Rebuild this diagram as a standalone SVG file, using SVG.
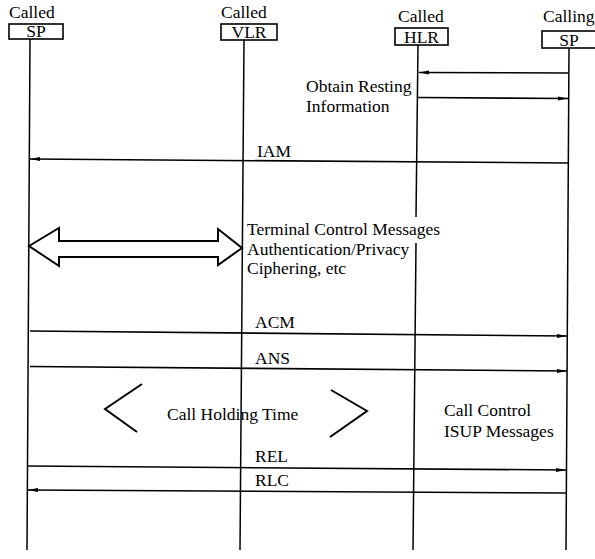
<svg xmlns="http://www.w3.org/2000/svg" width="595" height="559" viewBox="0 0 595 559">
<defs>
<marker id="ah" markerWidth="10" markerHeight="6" refX="10" refY="3" orient="auto" markerUnits="userSpaceOnUse">
<path d="M0,1 L10,3 L0,5 Z" fill="#000"/>
</marker>
<style>
text{font-family:"Liberation Serif","Times New Roman",serif;font-size:17.5px;fill:#000}
.box{fill:#fff;stroke:#000;stroke-width:1.6}
.life{stroke:#000;stroke-width:1.5;fill:none}
.msg{stroke:#000;stroke-width:1.6;fill:none;marker-end:url(#ah)}
.shape{stroke:#000;stroke-width:2;fill:none}
</style>
</defs>
<rect width="595" height="559" fill="#fff"/>
<g id="lifelines">
<line class="life" x1="30" y1="39" x2="27" y2="550"/>
<line class="life" x1="244" y1="40" x2="240" y2="550"/>
<line class="life" x1="418" y1="45" x2="416" y2="217"/>
<line class="life" x1="416" y1="243" x2="413" y2="550"/>
<line class="life" x1="569" y1="48" x2="566" y2="550"/>
</g>
<g id="node-called-sp">
<text x="9" y="18">Called</text>
<rect class="box" x="9" y="24" width="54" height="15"/>
<text x="36" y="37" text-anchor="middle">SP</text>
</g>
<g id="node-called-vlr">
<text x="221" y="18">Called</text>
<rect class="box" x="221" y="24" width="56" height="16"/>
<text x="249" y="38" text-anchor="middle">VLR</text>
</g>
<g id="node-called-hlr">
<text x="398" y="22">Called</text>
<rect class="box" x="395" y="28" width="53" height="17"/>
<text x="421.5" y="43" text-anchor="middle">HLR</text>
</g>
<g id="node-calling-sp">
<text x="543" y="22">Calling</text>
<rect class="box" x="542" y="31" width="60" height="17"/>
<text x="569" y="46" text-anchor="middle">SP</text>
</g>
<g id="connectors">
<line class="msg" x1="568" y1="73" x2="419" y2="72.5"/>
<line class="msg" x1="418" y1="97.5" x2="568" y2="98.5"/>
<line class="msg" x1="568" y1="163" x2="30" y2="159"/>
<line class="msg" x1="30" y1="331" x2="567" y2="336"/>
<line class="msg" x1="30" y1="366.5" x2="567" y2="371"/>
<line class="msg" x1="28" y1="466" x2="566" y2="470"/>
<line class="msg" x1="566" y1="493" x2="28" y2="490"/>
<polygon class="shape" points="29,246 59,228 59,241 218,241 218,229 242,248 218,265 218,257 59,257 59,266"/>
<polyline class="shape" points="142,384 105,409 137,432"/>
<polyline class="shape" points="331,390 367,411 330,437"/>
</g>
<g id="labels">
<text x="306" y="92">Obtain Resting</text>
<text x="306" y="112">Information</text>
<text x="257" y="157">IAM</text>
<text x="247" y="235">Terminal Control Messages</text>
<text x="247" y="255">Authentication/Privacy</text>
<text x="247" y="274">Ciphering, etc</text>
<text x="255" y="328">ACM</text>
<text x="255" y="364">ANS</text>
<text x="167" y="420">Call Holding Time</text>
<text x="444" y="416">Call Control</text>
<text x="444" y="437">ISUP Messages</text>
<text x="255" y="462">REL</text>
<text x="255" y="486">RLC</text>
</g>
</svg>
